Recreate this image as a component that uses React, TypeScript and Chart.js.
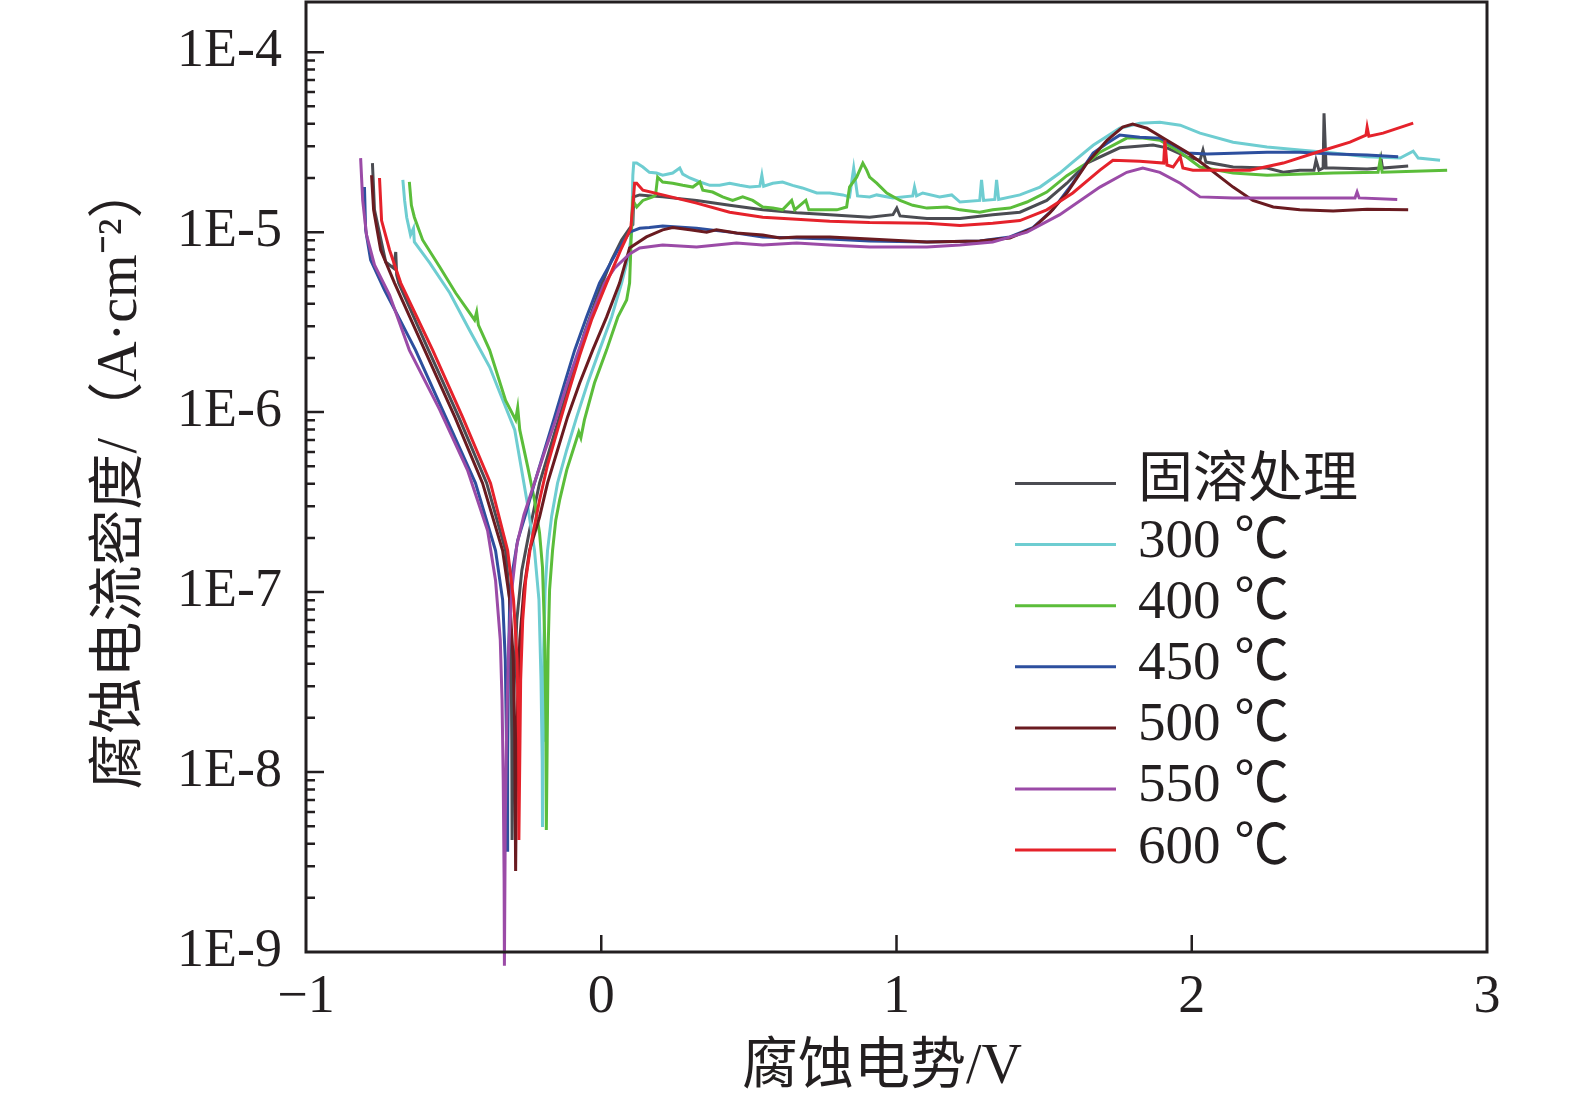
import React, { useEffect, useRef } from "react";
import Chart from "chart.js/auto";

// [potential / V, current density / (A·cm^-2)]
type Pt = [number, number];

const seriesLabels = ["固溶处理", "300 ℃", "400 ℃", "450 ℃", "500 ℃", "550 ℃", "600 ℃"];
const seriesColors = ["#4b4c52", "#6ecdd1", "#5bbd3a", "#2d4f9e", "#6a1b20", "#9b4ba7", "#e5222b"];

const solution: Pt[] = [
  [-0.775, 2.42e-5], [-0.768, 1.33e-5], [-0.73, 6.82e-6], [-0.703, 6.31e-6], [-0.696, 7.76e-6], [-0.693, 5.79e-6],
  [-0.686, 5.21e-6], [-0.585, 2.21e-6], [-0.483, 9.4e-7], [-0.388, 4.03e-7], [-0.324, 1.7e-7], [-0.31, 9.05e-8],
  [-0.305, 4.2e-8], [-0.303, 1.5e-8], [-0.302, 4.19e-9], [-0.297, 2.51e-8], [-0.286, 6.99e-8], [-0.269, 1.32e-7],
  [-0.243, 2.2e-7], [-0.209, 4.03e-7], [-0.158, 7.66e-7], [-0.107, 1.45e-6], [-0.057, 2.75e-6], [-0.006, 4.77e-6],
  [0.035, 7.0e-6], [0.069, 9.05e-6], [0.096, 1.05e-5], [0.107, 1.1e-5], [0.11, 1.57e-5], [0.13, 1.61e-5],
  [0.208, 1.57e-5], [0.323, 1.5e-5], [0.435, 1.41e-5], [0.547, 1.33e-5], [0.662, 1.28e-5], [0.774, 1.25e-5],
  [0.909, 1.21e-5], [0.988, 1.25e-5], [1.001, 1.36e-5], [1.012, 1.23e-5], [1.103, 1.19e-5], [1.215, 1.19e-5],
  [1.326, 1.25e-5], [1.418, 1.29e-5], [1.509, 1.5e-5], [1.577, 1.87e-5], [1.645, 2.42e-5], [1.756, 2.94e-5],
  [1.869, 3.05e-5], [1.916, 2.94e-5], [1.984, 2.62e-5], [2.028, 2.51e-5], [2.038, 2.86e-5], [2.048, 2.45e-5],
  [2.14, 2.3e-5], [2.255, 2.27e-5], [2.31, 2.15e-5], [2.366, 2.21e-5], [2.414, 2.21e-5], [2.421, 2.51e-5],
  [2.431, 2.21e-5], [2.445, 2.27e-5], [2.448, 4.58e-5], [2.455, 2.27e-5], [2.479, 2.27e-5], [2.594, 2.24e-5],
  [2.638, 2.27e-5], [2.642, 2.51e-5], [2.646, 2.27e-5], [2.733, 2.33e-5],
];

const t300: Pt[] = [
  [-0.672, 1.95e-5], [-0.666, 1.5e-5], [-0.659, 1.21e-5], [-0.646, 9.65e-6], [-0.636, 1.05e-5], [-0.633, 8.82e-6],
  [-0.581, 6.74e-6], [-0.513, 4.59e-6], [-0.446, 2.85e-6], [-0.378, 1.78e-6], [-0.344, 1.29e-6], [-0.293, 7.96e-7],
  [-0.252, 3.24e-7], [-0.226, 1.7e-7], [-0.211, 9.05e-8], [-0.204, 3.24e-8], [-0.2, 1.16e-8], [-0.199, 4.95e-9],
  [-0.197, 1.5e-8], [-0.195, 4.76e-8], [-0.19, 1.03e-7], [-0.182, 1.7e-7], [-0.168, 2.64e-7], [-0.148, 4.03e-7],
  [-0.117, 6.16e-7], [-0.083, 9.4e-7], [-0.046, 1.45e-6], [-0.006, 2.21e-6], [0.035, 3.37e-6], [0.069, 5.21e-6],
  [0.093, 7.47e-6], [0.103, 1.0e-5], [0.107, 2.07e-5], [0.11, 2.42e-5], [0.12, 2.42e-5], [0.141, 2.3e-5],
  [0.163, 2.15e-5], [0.187, 2.13e-5], [0.208, 2.07e-5], [0.242, 2.13e-5], [0.266, 2.27e-5], [0.276, 2.1e-5],
  [0.3, 2.0e-5], [0.334, 1.9e-5], [0.368, 1.82e-5], [0.401, 1.82e-5], [0.435, 1.87e-5], [0.469, 1.82e-5],
  [0.503, 1.78e-5], [0.537, 1.8e-5], [0.544, 2.07e-5], [0.55, 1.8e-5], [0.581, 1.87e-5], [0.614, 1.9e-5],
  [0.648, 1.82e-5], [0.681, 1.76e-5], [0.73, 1.65e-5], [0.774, 1.65e-5], [0.818, 1.61e-5], [0.841, 1.57e-5],
  [0.855, 2.27e-5], [0.868, 1.59e-5], [0.909, 1.57e-5], [0.933, 1.61e-5], [0.988, 1.55e-5], [1.055, 1.59e-5],
  [1.061, 1.78e-5], [1.068, 1.59e-5], [1.089, 1.65e-5], [1.146, 1.57e-5], [1.187, 1.61e-5], [1.215, 1.47e-5],
  [1.282, 1.5e-5], [1.288, 1.95e-5], [1.295, 1.5e-5], [1.333, 1.52e-5], [1.339, 1.95e-5], [1.346, 1.52e-5],
  [1.418, 1.61e-5], [1.486, 1.78e-5], [1.553, 2.13e-5], [1.597, 2.45e-5], [1.666, 3.04e-5], [1.756, 3.78e-5],
  [1.824, 4.03e-5], [1.892, 4.08e-5], [1.961, 3.93e-5], [2.028, 3.55e-5], [2.14, 3.16e-5], [2.255, 2.97e-5],
  [2.366, 2.86e-5], [2.479, 2.75e-5], [2.594, 2.62e-5], [2.706, 2.58e-5], [2.75, 2.82e-5], [2.767, 2.58e-5],
  [2.841, 2.51e-5],
];

const t400: Pt[] = [
  [-0.65, 1.9e-5], [-0.643, 1.41e-5], [-0.633, 1.21e-5], [-0.605, 9.05e-6], [-0.547, 6.4e-6], [-0.493, 4.59e-6],
  [-0.429, 3.25e-6], [-0.422, 3.6e-6], [-0.416, 3.04e-6], [-0.378, 2.21e-6], [-0.324, 1.16e-6], [-0.29, 9.05e-7],
  [-0.283, 1.06e-6], [-0.276, 7.96e-7], [-0.249, 4.96e-7], [-0.226, 3.24e-7], [-0.209, 2.13e-7], [-0.199, 1.37e-7],
  [-0.192, 5.92e-8], [-0.187, 1.71e-8], [-0.186, 4.76e-9], [-0.183, 1.5e-8], [-0.18, 4.76e-8], [-0.175, 1.03e-7],
  [-0.165, 1.7e-7], [-0.154, 2.51e-7], [-0.141, 3.24e-7], [-0.117, 4.76e-7], [-0.09, 6.57e-7], [-0.076, 7.75e-7],
  [-0.069, 7.19e-7], [-0.057, 9.05e-7], [-0.023, 1.45e-6], [0.018, 2.21e-6], [0.056, 3.37e-6], [0.086, 4.2e-6],
  [0.096, 5.21e-6], [0.1, 7.96e-6], [0.103, 1.16e-5], [0.107, 1.5e-5], [0.12, 1.38e-5], [0.141, 1.5e-5],
  [0.174, 1.57e-5], [0.184, 1.61e-5], [0.191, 2.02e-5], [0.208, 1.9e-5], [0.242, 1.87e-5], [0.276, 1.82e-5],
  [0.31, 1.78e-5], [0.334, 1.9e-5], [0.344, 1.71e-5], [0.377, 1.67e-5], [0.411, 1.57e-5], [0.445, 1.5e-5],
  [0.479, 1.57e-5], [0.513, 1.5e-5], [0.547, 1.38e-5], [0.581, 1.36e-5], [0.614, 1.33e-5], [0.645, 1.5e-5],
  [0.655, 1.33e-5], [0.693, 1.5e-5], [0.703, 1.33e-5], [0.75, 1.33e-5], [0.798, 1.33e-5], [0.831, 1.38e-5],
  [0.841, 1.78e-5], [0.865, 2.02e-5], [0.886, 2.42e-5], [0.899, 2.21e-5], [0.909, 2.02e-5], [0.933, 1.87e-5],
  [0.967, 1.65e-5], [1.012, 1.5e-5], [1.055, 1.41e-5], [1.103, 1.36e-5], [1.171, 1.38e-5], [1.215, 1.33e-5],
  [1.282, 1.29e-5], [1.326, 1.33e-5], [1.384, 1.36e-5], [1.442, 1.47e-5], [1.509, 1.67e-5], [1.577, 2.06e-5],
  [1.645, 2.42e-5], [1.689, 2.78e-5], [1.78, 3.33e-5], [1.834, 3.33e-5], [1.892, 3.24e-5], [1.961, 2.78e-5],
  [2.028, 2.3e-5], [2.14, 2.13e-5], [2.255, 2.07e-5], [2.479, 2.13e-5], [2.631, 2.15e-5], [2.638, 2.51e-5],
  [2.645, 2.15e-5], [2.865, 2.21e-5],
];

const t450: Pt[] = [
  [-0.802, 1.78e-5], [-0.798, 1.03e-5], [-0.781, 7.0e-6], [-0.734, 4.77e-6], [-0.629, 2.21e-6], [-0.527, 9.4e-7],
  [-0.426, 4.03e-7], [-0.358, 1.7e-7], [-0.334, 9.05e-8], [-0.325, 4.2e-8], [-0.321, 1.5e-8], [-0.319, 3.68e-9],
  [-0.317, 1.16e-8], [-0.314, 4.2e-8], [-0.31, 9.05e-8], [-0.3, 1.32e-7], [-0.283, 1.94e-7], [-0.259, 2.61e-7],
  [-0.226, 4.03e-7], [-0.192, 6.16e-7], [-0.158, 9.4e-7], [-0.124, 1.45e-6], [-0.09, 2.21e-6], [-0.05, 3.37e-6],
  [-0.006, 5.21e-6], [0.056, 7.96e-6], [0.096, 1.0e-5], [0.13, 1.05e-5], [0.163, 1.06e-5], [0.208, 1.08e-5],
  [0.323, 1.05e-5], [0.435, 1.0e-5], [0.547, 9.41e-6], [0.662, 9.28e-6], [0.774, 9.17e-6], [0.909, 8.94e-6],
  [1.103, 8.82e-6], [1.282, 8.94e-6], [1.384, 9.41e-6], [1.462, 1.06e-5], [1.529, 1.33e-5], [1.597, 1.87e-5],
  [1.666, 2.75e-5], [1.713, 3.12e-5], [1.756, 3.46e-5], [1.824, 3.37e-5], [1.892, 3.33e-5], [1.937, 3.05e-5],
  [1.984, 2.75e-5], [2.052, 2.72e-5], [2.255, 2.78e-5], [2.366, 2.78e-5], [2.479, 2.72e-5], [2.594, 2.68e-5],
  [2.699, 2.62e-5],
];

const t500: Pt[] = [
  [-0.778, 2.07e-5], [-0.771, 1.33e-5], [-0.747, 7.96e-6], [-0.7, 5.21e-6], [-0.598, 2.21e-6], [-0.496, 9.4e-7],
  [-0.402, 4.03e-7], [-0.334, 1.7e-7], [-0.31, 9.05e-8], [-0.298, 4.2e-8], [-0.293, 1.71e-8], [-0.29, 2.82e-9],
  [-0.288, 7.0e-9], [-0.283, 2.51e-8], [-0.276, 5.42e-8], [-0.262, 1.03e-7], [-0.243, 1.7e-7], [-0.209, 2.61e-7],
  [-0.182, 4.03e-7], [-0.148, 6.16e-7], [-0.114, 9.4e-7], [-0.073, 1.45e-6], [-0.029, 2.21e-6], [0.018, 3.37e-6],
  [0.062, 5.21e-6], [0.096, 8.17e-6], [0.153, 9.41e-6], [0.208, 1.03e-5], [0.242, 1.06e-5], [0.3, 1.03e-5],
  [0.357, 1.0e-5], [0.39, 1.03e-5], [0.458, 9.9e-6], [0.547, 9.65e-6], [0.605, 9.28e-6], [0.662, 9.41e-6],
  [0.774, 9.41e-6], [0.909, 9.17e-6], [1.103, 8.82e-6], [1.282, 8.94e-6], [1.384, 9.28e-6], [1.462, 1.05e-5],
  [1.519, 1.28e-5], [1.577, 1.65e-5], [1.645, 2.42e-5], [1.713, 3.24e-5], [1.766, 3.83e-5], [1.8, 3.98e-5],
  [1.848, 3.78e-5], [1.916, 3.24e-5], [1.984, 2.78e-5], [2.052, 2.3e-5], [2.14, 1.78e-5], [2.207, 1.5e-5],
  [2.276, 1.38e-5], [2.366, 1.33e-5], [2.479, 1.31e-5], [2.594, 1.34e-5], [2.733, 1.33e-5],
];

const t550: Pt[] = [
  [-0.815, 2.58e-5], [-0.808, 1.5e-5], [-0.795, 9.65e-6], [-0.768, 6.58e-6], [-0.717, 4.47e-6], [-0.65, 2.21e-6],
  [-0.547, 1.03e-6], [-0.453, 4.76e-7], [-0.385, 2.2e-7], [-0.358, 1.16e-7], [-0.342, 5.42e-8], [-0.336, 2.51e-8],
  [-0.332, 9.03e-9], [-0.329, 2.51e-9], [-0.328, 8.4e-10], [-0.325, 5.41e-9], [-0.32, 1.94e-8], [-0.314, 4.76e-8],
  [-0.303, 1.03e-7], [-0.286, 1.82e-7], [-0.262, 2.68e-7], [-0.231, 3.83e-7], [-0.192, 6.0e-7], [-0.154, 9.05e-7],
  [-0.117, 1.41e-6], [-0.079, 2.15e-6], [-0.036, 3.37e-6], [0.011, 5.21e-6], [0.045, 6.31e-6], [0.096, 7.56e-6],
  [0.13, 8.17e-6], [0.208, 8.48e-6], [0.323, 8.27e-6], [0.458, 8.7e-6], [0.547, 8.48e-6], [0.662, 8.7e-6],
  [0.774, 8.48e-6], [0.909, 8.27e-6], [1.103, 8.27e-6], [1.215, 8.48e-6], [1.326, 8.82e-6], [1.442, 1.0e-5],
  [1.553, 1.25e-5], [1.689, 1.78e-5], [1.78, 2.15e-5], [1.834, 2.27e-5], [1.892, 2.15e-5], [1.961, 1.87e-5],
  [2.028, 1.57e-5], [2.14, 1.55e-5], [2.255, 1.55e-5], [2.553, 1.55e-5], [2.56, 1.67e-5], [2.567, 1.55e-5],
  [2.696, 1.52e-5],
];

const t600: Pt[] = [
  [-0.751, 2.0e-5], [-0.744, 1.16e-5], [-0.717, 7.96e-6], [-0.679, 5.21e-6], [-0.571, 2.21e-6], [-0.47, 9.4e-7],
  [-0.375, 4.03e-7], [-0.317, 1.7e-7], [-0.297, 9.05e-8], [-0.285, 4.2e-8], [-0.28, 1.5e-8], [-0.279, 4.19e-9],
  [-0.276, 1.16e-8], [-0.273, 3.24e-8], [-0.266, 6.99e-8], [-0.256, 1.16e-7], [-0.239, 1.82e-7], [-0.209, 3.24e-7],
  [-0.182, 5.08e-7], [-0.148, 7.96e-7], [-0.114, 1.24e-6], [-0.073, 2.07e-6], [-0.033, 3.25e-6], [0.018, 5.21e-6],
  [0.066, 7.96e-6], [0.1, 1.05e-5], [0.107, 1.41e-5], [0.113, 1.87e-5], [0.12, 1.87e-5], [0.141, 1.71e-5],
  [0.208, 1.61e-5], [0.323, 1.45e-5], [0.435, 1.29e-5], [0.547, 1.21e-5], [0.662, 1.18e-5], [0.774, 1.15e-5],
  [0.909, 1.13e-5], [1.103, 1.12e-5], [1.215, 1.09e-5], [1.326, 1.12e-5], [1.418, 1.16e-5], [1.509, 1.33e-5],
  [1.597, 1.65e-5], [1.689, 2.21e-5], [1.733, 2.51e-5], [1.824, 2.48e-5], [1.905, 2.42e-5], [1.909, 3.24e-5],
  [1.916, 2.36e-5], [1.937, 2.3e-5], [1.961, 2.62e-5], [1.97, 2.27e-5], [2.004, 2.21e-5], [2.086, 2.21e-5],
  [2.197, 2.21e-5], [2.31, 2.42e-5], [2.424, 2.78e-5], [2.536, 3.16e-5], [2.59, 3.46e-5], [2.594, 3.83e-5],
  [2.6, 3.41e-5], [2.648, 3.55e-5], [2.75, 4.03e-5],
];

const series = [solution, t300, t400, t450, t500, t550, t600];
const xTicks = [-1, 0, 1, 2, 3];
const yDecades = [1e-9, 1e-8, 1e-7, 1e-6, 1e-5, 1e-4];
const xTitle = "腐蚀电势/V";
const yTitle = "腐蚀电流密度/（A·cm⁻²）";

const FONT = "'Liberation Serif', 'Noto Sans CJK SC', serif";
const INK = "#231f20";

// frame, inward ticks, axis titles and the legend inside the plot
const framePlugin = {
  id: "frame",
  afterDraw(chart: any) {
    const { ctx, chartArea: a, scales } = chart;
    const xs = scales.x;
    const ys = scales.y;
    ctx.save();
    ctx.strokeStyle = INK;
    ctx.lineWidth = 3;
    ctx.strokeRect(a.left, a.top, a.right - a.left, a.bottom - a.top);

    ctx.lineWidth = 2.5;
    ctx.beginPath();
    for (const dec of yDecades) {
      for (let m = 1; m <= 9; m++) {
        const v = m * dec;
        if (v <= ys.min * 1.001 || v > ys.max) continue;
        const py = ys.getPixelForValue(v);
        const len = m === 1 ? 18 : 9;
        ctx.moveTo(a.left, py);
        ctx.lineTo(a.left + len, py);
      }
    }
    for (const t of xTicks) {
      if (t <= xs.min || t >= xs.max) continue;
      const px = xs.getPixelForValue(t);
      ctx.moveTo(px, a.bottom);
      ctx.lineTo(px, a.bottom - 17);
    }
    ctx.stroke();

    // axis titles
    ctx.fillStyle = INK;
    ctx.font = `56px ${FONT}`;
    ctx.textAlign = "center";
    ctx.textBaseline = "middle";
    ctx.fillText(xTitle, 882, 1068);
    ctx.save();
    ctx.translate(121, 476);
    ctx.rotate(-Math.PI / 2);
    ctx.fillText(yTitle, 0, 0);
    ctx.restore();

    // legend
    const lx0 = 1015;
    const lx1 = 1116;
    const tx = 1138;
    const top = 483.5;
    const step = 61.1;
    ctx.font = `55px ${FONT}`;
    ctx.textBaseline = "middle";
    ctx.textAlign = "left";
    chart.data.datasets.forEach((ds: any, i: number) => {
      const y = top + i * step;
      ctx.strokeStyle = ds.borderColor;
      ctx.lineWidth = 3;
      ctx.beginPath();
      ctx.moveTo(lx0, y);
      ctx.lineTo(lx1, y);
      ctx.stroke();
      ctx.fillStyle = INK;
      ctx.fillText(ds.label, tx, y - 2);
    });
    ctx.restore();
  },
};

const PolarizationChart: React.FC = () => {
  const canvasRef = useRef<HTMLCanvasElement>(null);
  const chartRef = useRef<Chart>();

  useEffect(() => {
    document.body.style.margin = "0";

    if (!canvasRef.current) return;
    const ctx = canvasRef.current.getContext("2d");
    if (!ctx) return;

    chartRef.current = new Chart(ctx, {
      type: "line",
      data: {
        datasets: series.map((pts, i) => ({
          label: seriesLabels[i],
          data: pts.map(([x, y]) => ({ x, y })),
          borderColor: seriesColors[i],
          backgroundColor: seriesColors[i],
          borderWidth: 3,
          pointRadius: 0,
          tension: 0,
          order: series.length - i,
          clip: i === 5 ? false : undefined,
        })),
      },
      options: {
        animation: false,
        responsive: false,
        devicePixelRatio: 1,
        events: [],
        layout: { padding: { top: 2, right: 88, left: 0, bottom: 0 } },
        plugins: {
          legend: { display: false },
          tooltip: { enabled: false },
        },
        scales: {
          x: {
            type: "linear",
            min: -1,
            max: 3,
            afterFit: (s: any) => {
              s.height = 152;
              s.paddingLeft = 0;
              s.paddingRight = 0;
            },
            afterBuildTicks: (s: any) => {
              s.ticks = xTicks.map((v) => ({ value: v }));
            },
            grid: { display: false, drawTicks: false },
            border: { display: false },
            ticks: {
              padding: 13,
              color: INK,
              font: { family: FONT, size: 54 },
              maxRotation: 0,
              autoSkip: false,
              callback: (v: any) => (v < 0 ? `−${-v}` : `${v}`),
            },
          },
          y: {
            type: "logarithmic",
            min: 1e-9,
            max: 1.9e-4,
            afterFit: (s: any) => {
              s.width = 306;
              s.paddingTop = 0;
              s.paddingBottom = 0;
            },
            afterBuildTicks: (s: any) => {
              s.ticks = yDecades.map((v) => ({ value: v }));
            },
            grid: { display: false, drawTicks: false },
            border: { display: false },
            ticks: {
              padding: 24,
              color: INK,
              font: { family: FONT, size: 54 },
              autoSkip: false,
              callback: (v: any) => `1E${Math.round(Math.log10(v))}`,
            },
          },
        },
      },
      plugins: [framePlugin],
    });

    return () => {
      if (chartRef.current) {
        chartRef.current.destroy();
      }
    };
  }, []);

  return (
    <div style={{ width: 1575, height: 1104, overflow: "hidden" }}>
      <canvas ref={canvasRef} width={1575} height={1104} style={{ display: "block" }} />
    </div>
  );
};

export default function App() {
  return <PolarizationChart />;
}
